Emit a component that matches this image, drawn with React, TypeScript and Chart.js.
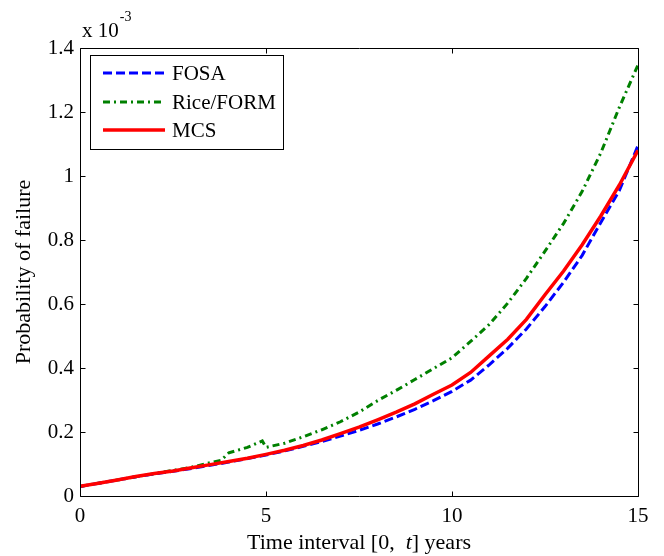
import React, { useEffect, useRef } from "react";
import { Chart, registerables } from "chart.js";

Chart.register(...registerables);

// Time grid (years) shared by FOSA and MCS
const tGrid = [0, 0.5, 1, 1.5, 2, 2.5, 3, 3.5, 4, 4.5, 5, 5.5, 6, 6.5, 7, 7.5, 8, 8.5, 9, 9.5, 10, 10.5, 11, 11.5, 12, 12.5, 13, 13.5, 14, 14.5, 15];
// Probability of failure (x 1e-3)
const fosa = [0.030, 0.040, 0.050, 0.060, 0.069, 0.077, 0.086, 0.096, 0.106, 0.117, 0.128, 0.141, 0.155, 0.170, 0.187, 0.205, 0.225, 0.247, 0.271, 0.298, 0.327, 0.362, 0.410, 0.462, 0.522, 0.592, 0.668, 0.752, 0.855, 0.955, 1.095];
const mcs = [0.030, 0.040, 0.050, 0.061, 0.070, 0.078, 0.088, 0.098, 0.108, 0.118, 0.130, 0.143, 0.158, 0.175, 0.195, 0.215, 0.238, 0.262, 0.288, 0.318, 0.347, 0.386, 0.438, 0.490, 0.552, 0.629, 0.703, 0.785, 0.875, 0.972, 1.080];
// Rice/FORM has its own time grid (captures the jump near t = 5)
const tRice = [0, 0.5, 1, 1.5, 2, 2.5, 3, 3.5, 3.8, 4.0, 4.5, 4.9, 5.0, 5.5, 6, 6.5, 7, 7.5, 8, 8.5, 9, 9.5, 10, 10.5, 11, 11.5, 12, 12.5, 13, 13.5, 14, 14.5, 15];
const rice = [0.030, 0.040, 0.050, 0.060, 0.070, 0.080, 0.090, 0.104, 0.112, 0.135, 0.152, 0.172, 0.152, 0.165, 0.185, 0.207, 0.232, 0.262, 0.298, 0.330, 0.364, 0.398, 0.432, 0.483, 0.536, 0.603, 0.680, 0.765, 0.852, 0.952, 1.072, 1.215, 1.347];

const xTicks = [0, 5, 10, 15];
const yTicks = [0, 0.2, 0.4, 0.6, 0.8, 1, 1.2, 1.4];
const seriesNames = ["FOSA", "Rice/FORM", "MCS"];
const xTitle = ["Time interval [0,  ", "t", "] years"];
const yTitle = "Probability of failure";
const expBase = "x 10";
const expPow = "-3";

const SERIF = "'Liberation Serif', 'Times New Roman', serif";
const BLUE = "#0000ff";
const GREEN = "#008000";
const RED = "#ff0000";
const DASH_FOSA = [9, 4];
const DASH_RICE = [7, 4, 2, 4];

const toPts = (xs: number[], ys: number[]) => xs.map((x, i) => ({ x, y: ys[i] }));

const framePlugin = {
  id: "frame",
  afterDraw(chart: any) {
    const ctx: CanvasRenderingContext2D = chart.ctx;
    const { left, right, top, bottom } = chart.chartArea;
    const xs = chart.scales.x;
    const ys = chart.scales.y;
    ctx.save();
    ctx.strokeStyle = "#000";
    ctx.lineWidth = 1;
    const L = Math.round(left) + 0.5;
    const R = Math.round(right) + 0.5;
    const T = Math.round(top) + 0.5;
    const B = Math.round(bottom) + 0.5;
    ctx.beginPath();
    ctx.rect(L, T, R - L, B - T);
    ctx.stroke();
    const tl = 5;
    ctx.beginPath();
    xTicks.forEach((v) => {
      const px = Math.round(xs.getPixelForValue(v)) + 0.5;
      ctx.moveTo(px, B);
      ctx.lineTo(px, B - tl);
      ctx.moveTo(px, T);
      ctx.lineTo(px, T + tl);
    });
    yTicks.forEach((v) => {
      const py = Math.round(ys.getPixelForValue(v)) + 0.5;
      ctx.moveTo(L, py);
      ctx.lineTo(L + tl, py);
      ctx.moveTo(R, py);
      ctx.lineTo(R - tl, py);
    });
    ctx.stroke();

    // exponent label
    ctx.fillStyle = "#000";
    ctx.textBaseline = "alphabetic";
    ctx.textAlign = "left";
    ctx.font = `21px ${SERIF}`;
    ctx.fillText(expBase, 82, 37);
    const wb = ctx.measureText(expBase).width;
    ctx.font = `14px ${SERIF}`;
    ctx.fillText(expPow, 82 + wb + 1, 21);

    // x title with italic t
    ctx.font = `22px ${SERIF}`;
    const w1 = ctx.measureText(xTitle[0]).width;
    const w3 = ctx.measureText(xTitle[2]).width;
    ctx.font = `italic 22px ${SERIF}`;
    const w2 = ctx.measureText(xTitle[1]).width;
    const total = w1 + w2 + w3;
    let xx = (left + right) / 2 - total / 2;
    const yb = 549;
    ctx.font = `22px ${SERIF}`;
    ctx.fillText(xTitle[0], xx, yb);
    xx += w1;
    ctx.font = `italic 22px ${SERIF}`;
    ctx.fillText(xTitle[1], xx, yb);
    xx += w2;
    ctx.font = `22px ${SERIF}`;
    ctx.fillText(xTitle[2], xx, yb);

    // y title
    ctx.save();
    ctx.translate(30, (top + bottom) / 2);
    ctx.rotate(-Math.PI / 2);
    ctx.textAlign = "center";
    ctx.font = `22px ${SERIF}`;
    ctx.fillText(yTitle, 0, 0);
    ctx.restore();

    // legend
    const lx = 90.5, ly = 55.5, lw = 193, lh = 94;
    ctx.fillStyle = "#fff";
    ctx.fillRect(lx, ly, lw, lh);
    ctx.strokeStyle = "#000";
    ctx.lineWidth = 1;
    ctx.strokeRect(lx, ly, lw, lh);
    const rows = [73, 102, 130];
    const styles = [
      { c: BLUE, d: DASH_FOSA, w: 3 },
      { c: GREEN, d: DASH_RICE, w: 3 },
      { c: RED, d: [], w: 3.5 },
    ];
    rows.forEach((ry, i) => {
      ctx.beginPath();
      ctx.strokeStyle = styles[i].c;
      ctx.lineWidth = styles[i].w;
      ctx.setLineDash(styles[i].d);
      ctx.moveTo(103, ry);
      ctx.lineTo(165, ry);
      ctx.stroke();
      ctx.setLineDash([]);
      ctx.fillStyle = "#000";
      ctx.font = `21px ${SERIF}`;
      ctx.textBaseline = "middle";
      ctx.fillText(seriesNames[i], 172, ry + 1);
    });
    ctx.restore();
  },
};

export default function App() {
  const ref = useRef<HTMLCanvasElement | null>(null);
  useEffect(() => {
    document.body.style.margin = "0";
    const canvas = ref.current;
    if (!canvas) return;
    const chart = new Chart(canvas, {
      type: "line",
      data: {
        datasets: [
          {
            label: seriesNames[0],
            data: toPts(tGrid, fosa),
            borderColor: BLUE,
            borderWidth: 3,
            borderDash: DASH_FOSA,
            pointRadius: 0,
            fill: false,
            tension: 0,
            order: 2,
          },
          {
            label: seriesNames[1],
            data: toPts(tRice, rice),
            borderColor: GREEN,
            borderWidth: 3,
            borderDash: DASH_RICE,
            pointRadius: 0,
            fill: false,
            tension: 0,
            order: 3,
          },
          {
            label: seriesNames[2],
            data: toPts(tGrid, mcs),
            borderColor: RED,
            borderWidth: 3.5,
            pointRadius: 0,
            fill: false,
            tension: 0,
            order: 1,
          },
        ],
      },
      options: {
        responsive: false,
        animation: false,
        layout: { padding: { left: 0, right: 26, top: 48, bottom: 0 } },
        plugins: { legend: { display: false }, tooltip: { enabled: false } },
        scales: {
          x: {
            type: "linear",
            min: 0,
            max: 15,
            afterBuildTicks: (s: any) => {
              s.ticks = xTicks.map((v) => ({ value: v }));
            },
            afterFit: (s: any) => {
              s.height = 60;
            },
            grid: { display: false, drawTicks: false },
            border: { display: false },
            ticks: {
              color: "#000",
              font: { family: SERIF, size: 21 },
              padding: 8,
              maxRotation: 0,
              callback: (v: any) => String(v),
            },
          },
          y: {
            type: "linear",
            min: 0,
            max: 1.4,
            afterBuildTicks: (s: any) => {
              s.ticks = yTicks.map((v) => ({ value: v }));
            },
            afterFit: (s: any) => {
              s.width = 80;
            },
            grid: { display: false, drawTicks: false },
            border: { display: false },
            ticks: {
              color: "#000",
              font: { family: SERIF, size: 21 },
              padding: 6,
              callback: (v: any) => String(parseFloat(Number(v).toFixed(1))),
            },
          },
        },
      },
      plugins: [framePlugin],
    });
    return () => chart.destroy();
  }, []);
  return (
    <div style={{ position: "absolute", left: 0, top: 0, width: 664, height: 556, background: "#fff" }}>
      <canvas ref={ref} width={664} height={556} style={{ display: "block" }} />
    </div>
  );
}
